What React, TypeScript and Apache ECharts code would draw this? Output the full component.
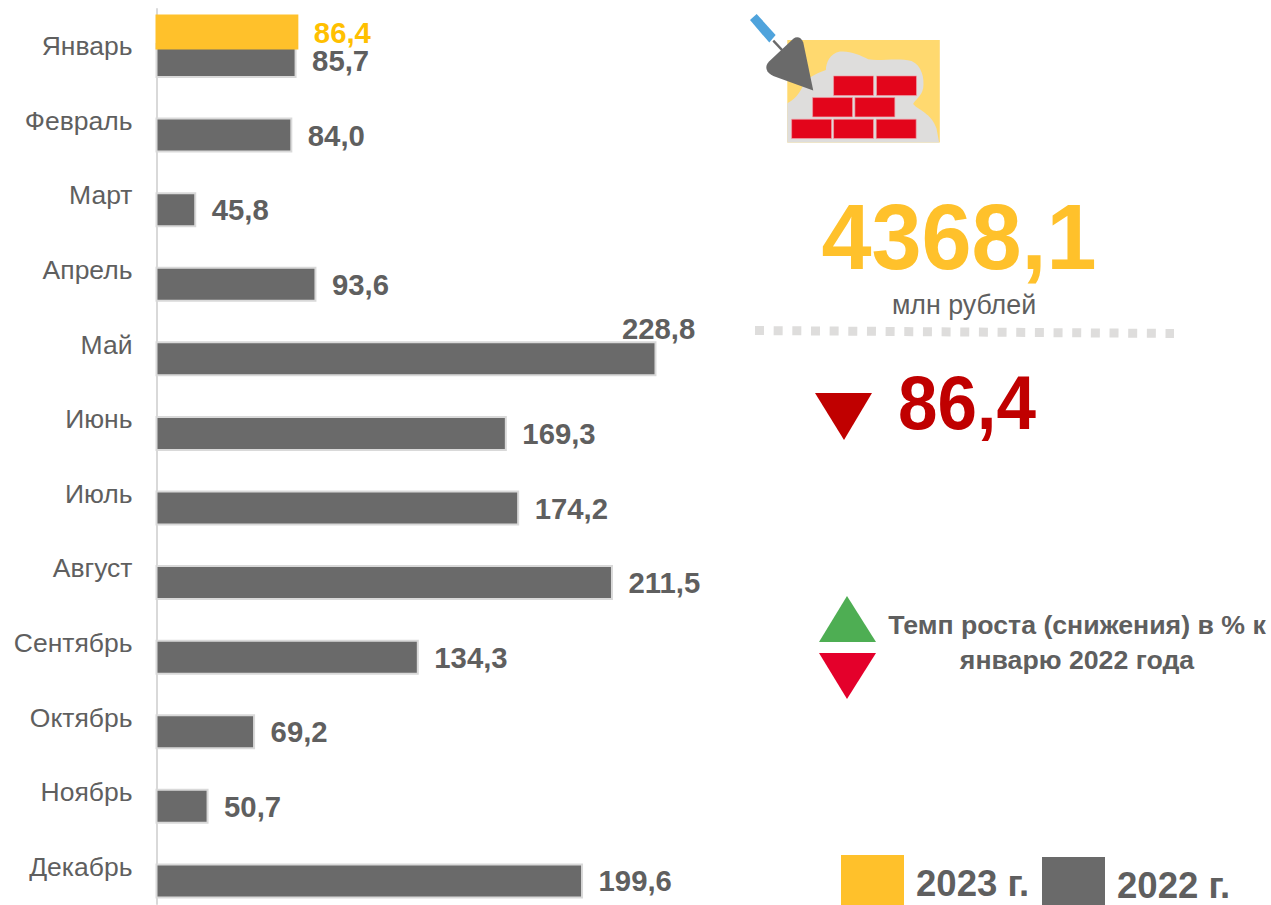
import React, { useEffect, useRef } from "react";
import * as echarts from "echarts";

const months = ["Январь", "Февраль", "Март", "Апрель", "Май", "Июнь", "Июль", "Август", "Сентябрь", "Октябрь", "Ноябрь", "Декабрь"];
const values2023 = [86.4, null, null, null, null, null, null, null, null, null, null, null];
const values2022 = [85.7, 84.0, 45.8, 93.6, 228.8, 169.3, 174.2, 211.5, 134.3, 69.2, 50.7, 199.6];
const legendNames = ["2023 г.", "2022 г."];
const totalText = "4368,1";
const totalUnit = "млн рублей";
const growthText = "86,4";
const noteLines = ["Темп роста (снижения) в % к", "январю 2022 года"];

const FONT = '"Liberation Sans", Arial, sans-serif';
const GREY = "#6A6A6A";
const TEXT = "#5F5F5F";
const YELLOW = "#FFC12B";

const blob = "M142 428 L142 310 C160 300 178 285 190 255 C200 235 225 222 258 210 C258 190 270 160 300 155 C330 152 360 165 385 178 C420 185 470 172 515 183 C545 195 555 235 550 265 C545 290 525 300 520 312 C535 330 575 340 590 385 L598 428 Z";
const trowel = "M160 116 C172 108 184 112 190 128 L220 272 L100 228 C78 218 72 200 88 184 Z";
echarts.graphic.registerShape("plasterBlob", echarts.graphic.extendPath(blob, {}));
echarts.graphic.registerShape("trowelBlade", echarts.graphic.extendPath(trowel, {}));

const fmt = (v: number) => v.toFixed(1).replace(".", ",");

function brick(x: number, y: number, w: number, h: number) {
  return { type: "rect", shape: { x, y, width: w, height: h }, style: { fill: "#E3051B", stroke: "#F0A0A8", lineWidth: 2 }, silent: true };
}

export default function App() {
  const ref = useRef<HTMLDivElement>(null);
  useEffect(() => {
    const chart = echarts.init(ref.current!, undefined, { renderer: "svg" });
    chart.setOption({
      animation: false,
      backgroundColor: "#FFFFFF",
      grid: { left: 156.5, top: 9, width: 503, height: 895, containLabel: false },
      xAxis: { type: "value", min: 30, max: 230, show: false },
      yAxis: {
        type: "category",
        inverse: true,
        data: months,
        axisTick: { show: false },
        axisLine: { show: true, lineStyle: { color: "#D9D9D9", width: 2 } },
        axisLabel: { color: TEXT, fontSize: 26.5, fontFamily: FONT, margin: 24 },
      },
      series: [
        {
          type: "bar",
          name: legendNames[0],
          data: values2023,
          barWidth: 35,
          barGap: "-18.6%",
          z: 3,
          itemStyle: { color: YELLOW, borderColor: YELLOW, borderWidth: 2 },
          label: {
            show: true,
            position: "right",
            distance: 15.5,
            formatter: (p: any) => fmt(p.value),
            color: "#FFC000",
            fontFamily: FONT,
            fontWeight: "bold",
            fontSize: 29.3,
            lineHeight: 26,
          },
        },
        {
          type: "bar",
          name: legendNames[1],
          data: values2022.map((v) =>
            v === 228.8
              ? { value: v, label: { offset: [-50, -30] } }
              : v
          ),
          barWidth: 35,
          barGap: "-18.6%",
          z: 2,
          itemStyle: { color: GREY, borderColor: "#D9D9D9", borderWidth: 2 },
          label: {
            show: true,
            position: "right",
            distance: 15.5,
            formatter: (p: any) => fmt(p.value),
            color: TEXT,
            fontFamily: FONT,
            fontWeight: "bold",
            fontSize: 29.3,
            lineHeight: 26,
          },
        },
      ],
      graphic: [
        {
          type: "group",
          x: 740,
          y: 0,
          scaleX: 1 / 3,
          scaleY: 1 / 3,
          silent: true,
          children: [
            { type: "rect", shape: { x: 142, y: 120, width: 458, height: 308 }, style: { fill: "#FFD96F" } },
            { type: "plasterBlob", style: { fill: "#DEDDDC" } },
            brick(281, 228, 120, 59),
            brick(410, 228, 120, 59),
            brick(218, 293, 120, 58),
            brick(345, 293, 120, 58),
            brick(155, 358, 120, 58),
            brick(281, 358, 120, 58),
            brick(409, 358, 120, 58),
            { type: "line", shape: { x1: 100, y1: 122, x2: 128, y2: 152 }, style: { stroke: GREY, lineWidth: 7 } },
            { type: "polygon", shape: { points: [[30, 60], [50, 42], [107, 105], [88, 128]] }, style: { fill: "#4FA3DC" } },
            { type: "trowelBlade", style: { fill: GREY } },
          ],
        },
        { type: "text", x: 959, y: 236, scaleY: 1.04, silent: true, style: { text: totalText, fill: YELLOW, font: `bold 90px ${FONT}`, textAlign: "center", textVerticalAlign: "middle" } },
        { type: "text", x: 964, y: 305, silent: true, style: { text: totalUnit, fill: TEXT, font: `26.8px ${FONT}`, textAlign: "center", textVerticalAlign: "middle" } },
        { type: "line", silent: true, shape: { x1: 755, y1: 330.5, x2: 1174, y2: 333.5 }, style: { stroke: "#DEDDDC", lineWidth: 9, lineDash: [9, 9.66] } },
        { type: "polygon", silent: true, shape: { points: [[815, 393], [872, 393], [844, 440]] }, style: { fill: "#C00000" } },
        { type: "text", x: 967, y: 403, scaleY: 1.07, silent: true, style: { text: growthText, fill: "#C00000", font: `bold 71px ${FONT}`, textAlign: "center", textVerticalAlign: "middle" } },
        { type: "polygon", silent: true, shape: { points: [[819, 642], [876, 642], [847, 596]] }, style: { fill: "#4EAE53" } },
        { type: "polygon", silent: true, shape: { points: [[819, 653], [876, 653], [847, 699]] }, style: { fill: "#E4002B" } },
        { type: "text", x: 1077, y: 625, silent: true, style: { text: noteLines[0], fill: TEXT, font: `bold 26.7px ${FONT}`, textAlign: "center", textVerticalAlign: "middle" } },
        { type: "text", x: 1077, y: 660, silent: true, style: { text: noteLines[1], fill: TEXT, font: `bold 26.7px ${FONT}`, textAlign: "center", textVerticalAlign: "middle" } },
        { type: "rect", silent: true, shape: { x: 841, y: 855, width: 63, height: 50 }, style: { fill: YELLOW } },
        { type: "text", x: 916, y: 883, silent: true, style: { text: legendNames[0], fill: TEXT, font: `bold 36.6px ${FONT}`, textAlign: "left", textVerticalAlign: "middle" } },
        { type: "rect", silent: true, shape: { x: 1042, y: 857, width: 63, height: 48 }, style: { fill: GREY } },
        { type: "text", x: 1117, y: 885, silent: true, style: { text: legendNames[1], fill: TEXT, font: `bold 36.6px ${FONT}`, textAlign: "left", textVerticalAlign: "middle" } },
      ],
    });
    return () => chart.dispose();
  }, []);
  return <div ref={ref} style={{ position: "fixed", left: 0, top: 0, width: 1271, height: 905 }} />;
}
